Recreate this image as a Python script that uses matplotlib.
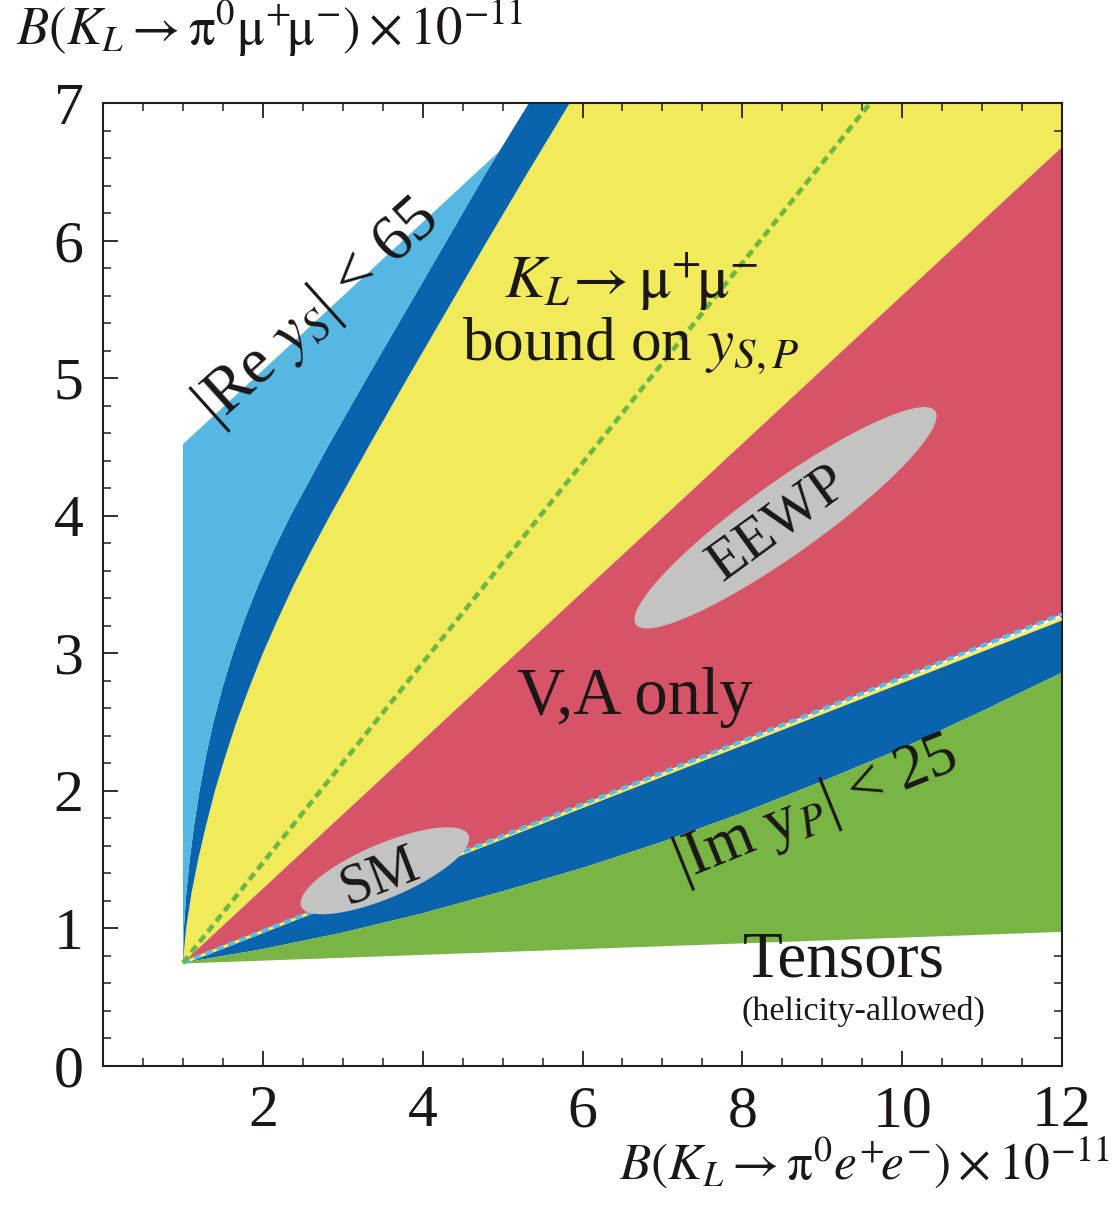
import numpy as np
import matplotlib
matplotlib.use("Agg")
import matplotlib.pyplot as plt
from matplotlib.ticker import MultipleLocator

plt.rcParams["font.family"] = ["Liberation Serif", "DejaVu Serif"]
plt.rcParams["mathtext.fontset"] = "stix"

# =============================================================================
# Region boundaries  (x = B(KL->pi0 e+e-), y = B(KL->pi0 mu+mu-), units 1e-11)
# =============================================================================

# |Re yS| band: edge between light and dark blue (x as function of y)
re_inner_y = [0.75, 1.00, 1.25, 1.50, 1.75, 2.00, 2.25, 2.50, 2.75, 3.00,
              3.25, 3.50, 3.75, 4.00, 4.50, 5.00, 5.50, 6.00, 6.50, 6.65, 7.00]
re_inner_x = [1.000, 1.012, 1.042, 1.085, 1.14, 1.207, 1.287, 1.382, 1.495,
              1.625, 1.775, 1.945, 2.135, 2.345, 2.81, 3.30, 3.80, 4.30,
              4.80, 4.96, 5.33]

# |Re yS| band: edge between dark blue and yellow
re_outer_y = [0.75, 1.00, 1.25, 1.50, 1.75, 2.00, 2.25, 2.50, 2.75, 3.00,
              3.25, 3.50, 3.75, 4.00, 4.50, 5.00, 5.50, 6.00, 6.50, 7.00]
re_outer_x = [1.00, 1.04, 1.105, 1.19, 1.29, 1.40, 1.53, 1.67, 1.83, 2.00,
              2.19, 2.39, 2.61, 2.84, 3.32, 3.81, 4.31, 4.81, 5.32, 5.84]

# upper cut of the light blue area
re_cut_x = [1.0, 4.96]
re_cut_y = [4.52, 6.65]

# KL -> mu+mu- bound (yellow / red edge)
kl_bound_x = [1.0, 12.0]
kl_bound_y = [0.75, 6.68]

# green dashed line inside the yellow band
green_dash_x = [1.0, 9.6]
green_dash_y = [0.75, 7.0]

# lower edge of the V,A region (cyan dashed) and thin yellow line
va_low_x = [1.0, 12.0]
va_low_y = [0.75, 3.285]
thin_yellow_y = [0.75, 3.25]

# |Im yP| band: edge between dark blue and green
im_outer_x = [1.0, 1.5, 2.0, 3.0, 4.0, 5.0, 6.0, 7.0, 8.0, 9.0, 10.0, 11.0,
              12.0]
im_outer_y = [0.75, 0.80, 0.85, 0.97, 1.11, 1.27, 1.44, 1.63, 1.84, 2.07,
              2.31, 2.58, 2.86]

# tensor region lower edge
tensor_low_x = [1.0, 12.0]
tensor_low_y = [0.745, 0.975]

# predictions: centre, semi-major and semi-minor vectors (data units)
sm_centre = (3.527, 1.419)
sm_major = (1.047, 0.259)
sm_minor = (-0.132, 0.181)

eewp_centre = (8.54, 3.985)
eewp_major = (1.872, 0.776)
eewp_minor = (-0.261, 0.213)

# axis ticks
x_major = [2, 4, 6, 8, 10, 12]
y_major = [0, 1, 2, 3, 4, 5, 6, 7]

# colours
C_LBLUE = "#56B8E2"
C_DBLUE = "#0A64AD"
C_YELLOW = "#F1EA5A"
C_RED = "#D75468"
C_GREEN = "#78B545"
C_GREY = "#C3C3C1"
C_TEXT = "#1A1716"
C_AXIS = "#231F20"

# =============================================================================
# Figure
# =============================================================================

fig = plt.figure(figsize=(11.17, 12.18), dpi=100)
ax = fig.add_axes([0.0922, 0.1248, 0.8586, 0.7906])
ax.set_xlim(0, 12)
ax.set_ylim(0, 7)

# yellow: everything between the |Re yS| band and the KL bound
ax.fill(
    re_outer_x + [12.0, kl_bound_x[1]],
    re_outer_y + [7.0, kl_bound_y[1]],
    color=C_YELLOW, lw=0, zorder=1,
)

# dark blue |Re yS| band
ax.fill(
    re_inner_x + re_outer_x[::-1],
    re_inner_y + re_outer_y[::-1],
    color=C_DBLUE, lw=0, zorder=2,
)

# light blue region
lb_x = [x for x, y in zip(re_inner_x, re_inner_y) if y <= re_cut_y[1]]
lb_y = [y for y in re_inner_y if y <= re_cut_y[1]]
ax.fill(lb_x + re_cut_x[::-1], lb_y + re_cut_y[::-1],
        color=C_LBLUE, lw=0, zorder=2)

# red V,A region
ax.fill(
    kl_bound_x + va_low_x[::-1],
    kl_bound_y + va_low_y[::-1],
    color=C_RED, lw=0, zorder=2,
)

# dark blue |Im yP| band
ax.fill(
    va_low_x + im_outer_x[::-1],
    thin_yellow_y + im_outer_y[::-1],
    color=C_DBLUE, lw=0, zorder=2,
)

# green tensor region
ax.fill(
    im_outer_x + tensor_low_x[::-1],
    im_outer_y + tensor_low_y[::-1],
    color=C_GREEN, lw=0, zorder=2,
)

# boundary lines
ax.plot(va_low_x, thin_yellow_y, color="#F6EE5A", lw=2.2, zorder=3,
        solid_capstyle="butt")
ax.plot(va_low_x, va_low_y, color="#5BBBE0", lw=3.0, ls=(0, (1.8, 1.1)),
        zorder=4)
ax.plot(green_dash_x, green_dash_y, color="#6DB845", lw=3.3,
        ls=(0, (1.8, 1.1)), zorder=4)

# prediction ellipses
t = np.linspace(0, 2 * np.pi, 300)
for centre, major, minor in [(sm_centre, sm_major, sm_minor),
                             (eewp_centre, eewp_major, eewp_minor)]:
    ex = centre[0] + major[0] * np.cos(t) + minor[0] * np.sin(t)
    ey = centre[1] + major[1] * np.cos(t) + minor[1] * np.sin(t)
    ax.fill(ex, ey, color=C_GREY, lw=0, zorder=5)

# =============================================================================
# Labels inside the plot
# =============================================================================

ax.text(2.68, 5.48, r"|Re $y_S$| < 65", fontsize=47,
        rotation=42, ha="center", va="center", color=C_TEXT, zorder=6)
ax.text(6.60, 5.58, r"$K_L\!\rightarrow \mathrm{\mu}^{+}\!\mathrm{\mu}^{-}$",
        fontsize=44, ha="center", va="baseline", color=C_TEXT, zorder=6)
ax.text(6.61, 5.13, r"bound on $y_{S,P}$", fontsize=44,
        ha="center", va="baseline", color=C_TEXT, zorder=6)
ax.text(6.65, 2.68, "V,A only", fontsize=48,
        ha="center", va="center", color=C_TEXT, zorder=6)
ax.text(8.45, 3.94, "EEWP", fontsize=42, rotation=36,
        ha="center", va="center", color=C_TEXT, zorder=6)
ax.text(3.46, 1.37, "SM", fontsize=40, rotation=21,
        ha="center", va="center", color=C_TEXT, zorder=6)
ax.text(8.92, 1.86, r"|Im y$_P$| < 25", fontsize=45,
        rotation=22, ha="center", va="center", color=C_TEXT, zorder=6)
ax.text(9.27, 0.65, "Tensors", fontsize=47,
        ha="center", va="baseline", color=C_TEXT, zorder=6)
ax.text(9.51, 0.334, "(helicity-allowed)", fontsize=24.5,
        ha="center", va="baseline", color=C_TEXT, zorder=6)

# =============================================================================
# Axes styling
# =============================================================================

ax.set_xticks(x_major)
ax.set_yticks(y_major)
ax.xaxis.set_minor_locator(MultipleLocator(0.5))
ax.yaxis.set_minor_locator(MultipleLocator(0.2))
ax.tick_params(which="both", direction="in", top=True, right=True,
               color=C_AXIS, labelcolor=C_TEXT, labelsize=43)
ax.tick_params(which="major", length=11, width=1.3)
ax.tick_params(which="minor", length=6, width=1.1)
ax.tick_params(axis="x", pad=14)
ax.tick_params(axis="y", pad=14)
for spine in ax.spines.values():
    spine.set_color(C_AXIS)
    spine.set_linewidth(1.5)

fig.text(0.0143, 0.963,
         r"$B(K_L \rightarrow \mathrm{\pi}^{0}\mathrm{\mu}^{+}\!\mathrm{\mu}^{-})\times10^{-11}$",
         fontsize=38, ha="left", va="baseline", color=C_TEXT)
fig.text(0.993, 0.031,
         r"$B(K_L \rightarrow \mathrm{\pi}^{0} e^{+}\!e^{-})\times10^{-11}$",
         fontsize=37, ha="right", va="baseline", color=C_TEXT)

fig.savefig("out.png", dpi=100)
